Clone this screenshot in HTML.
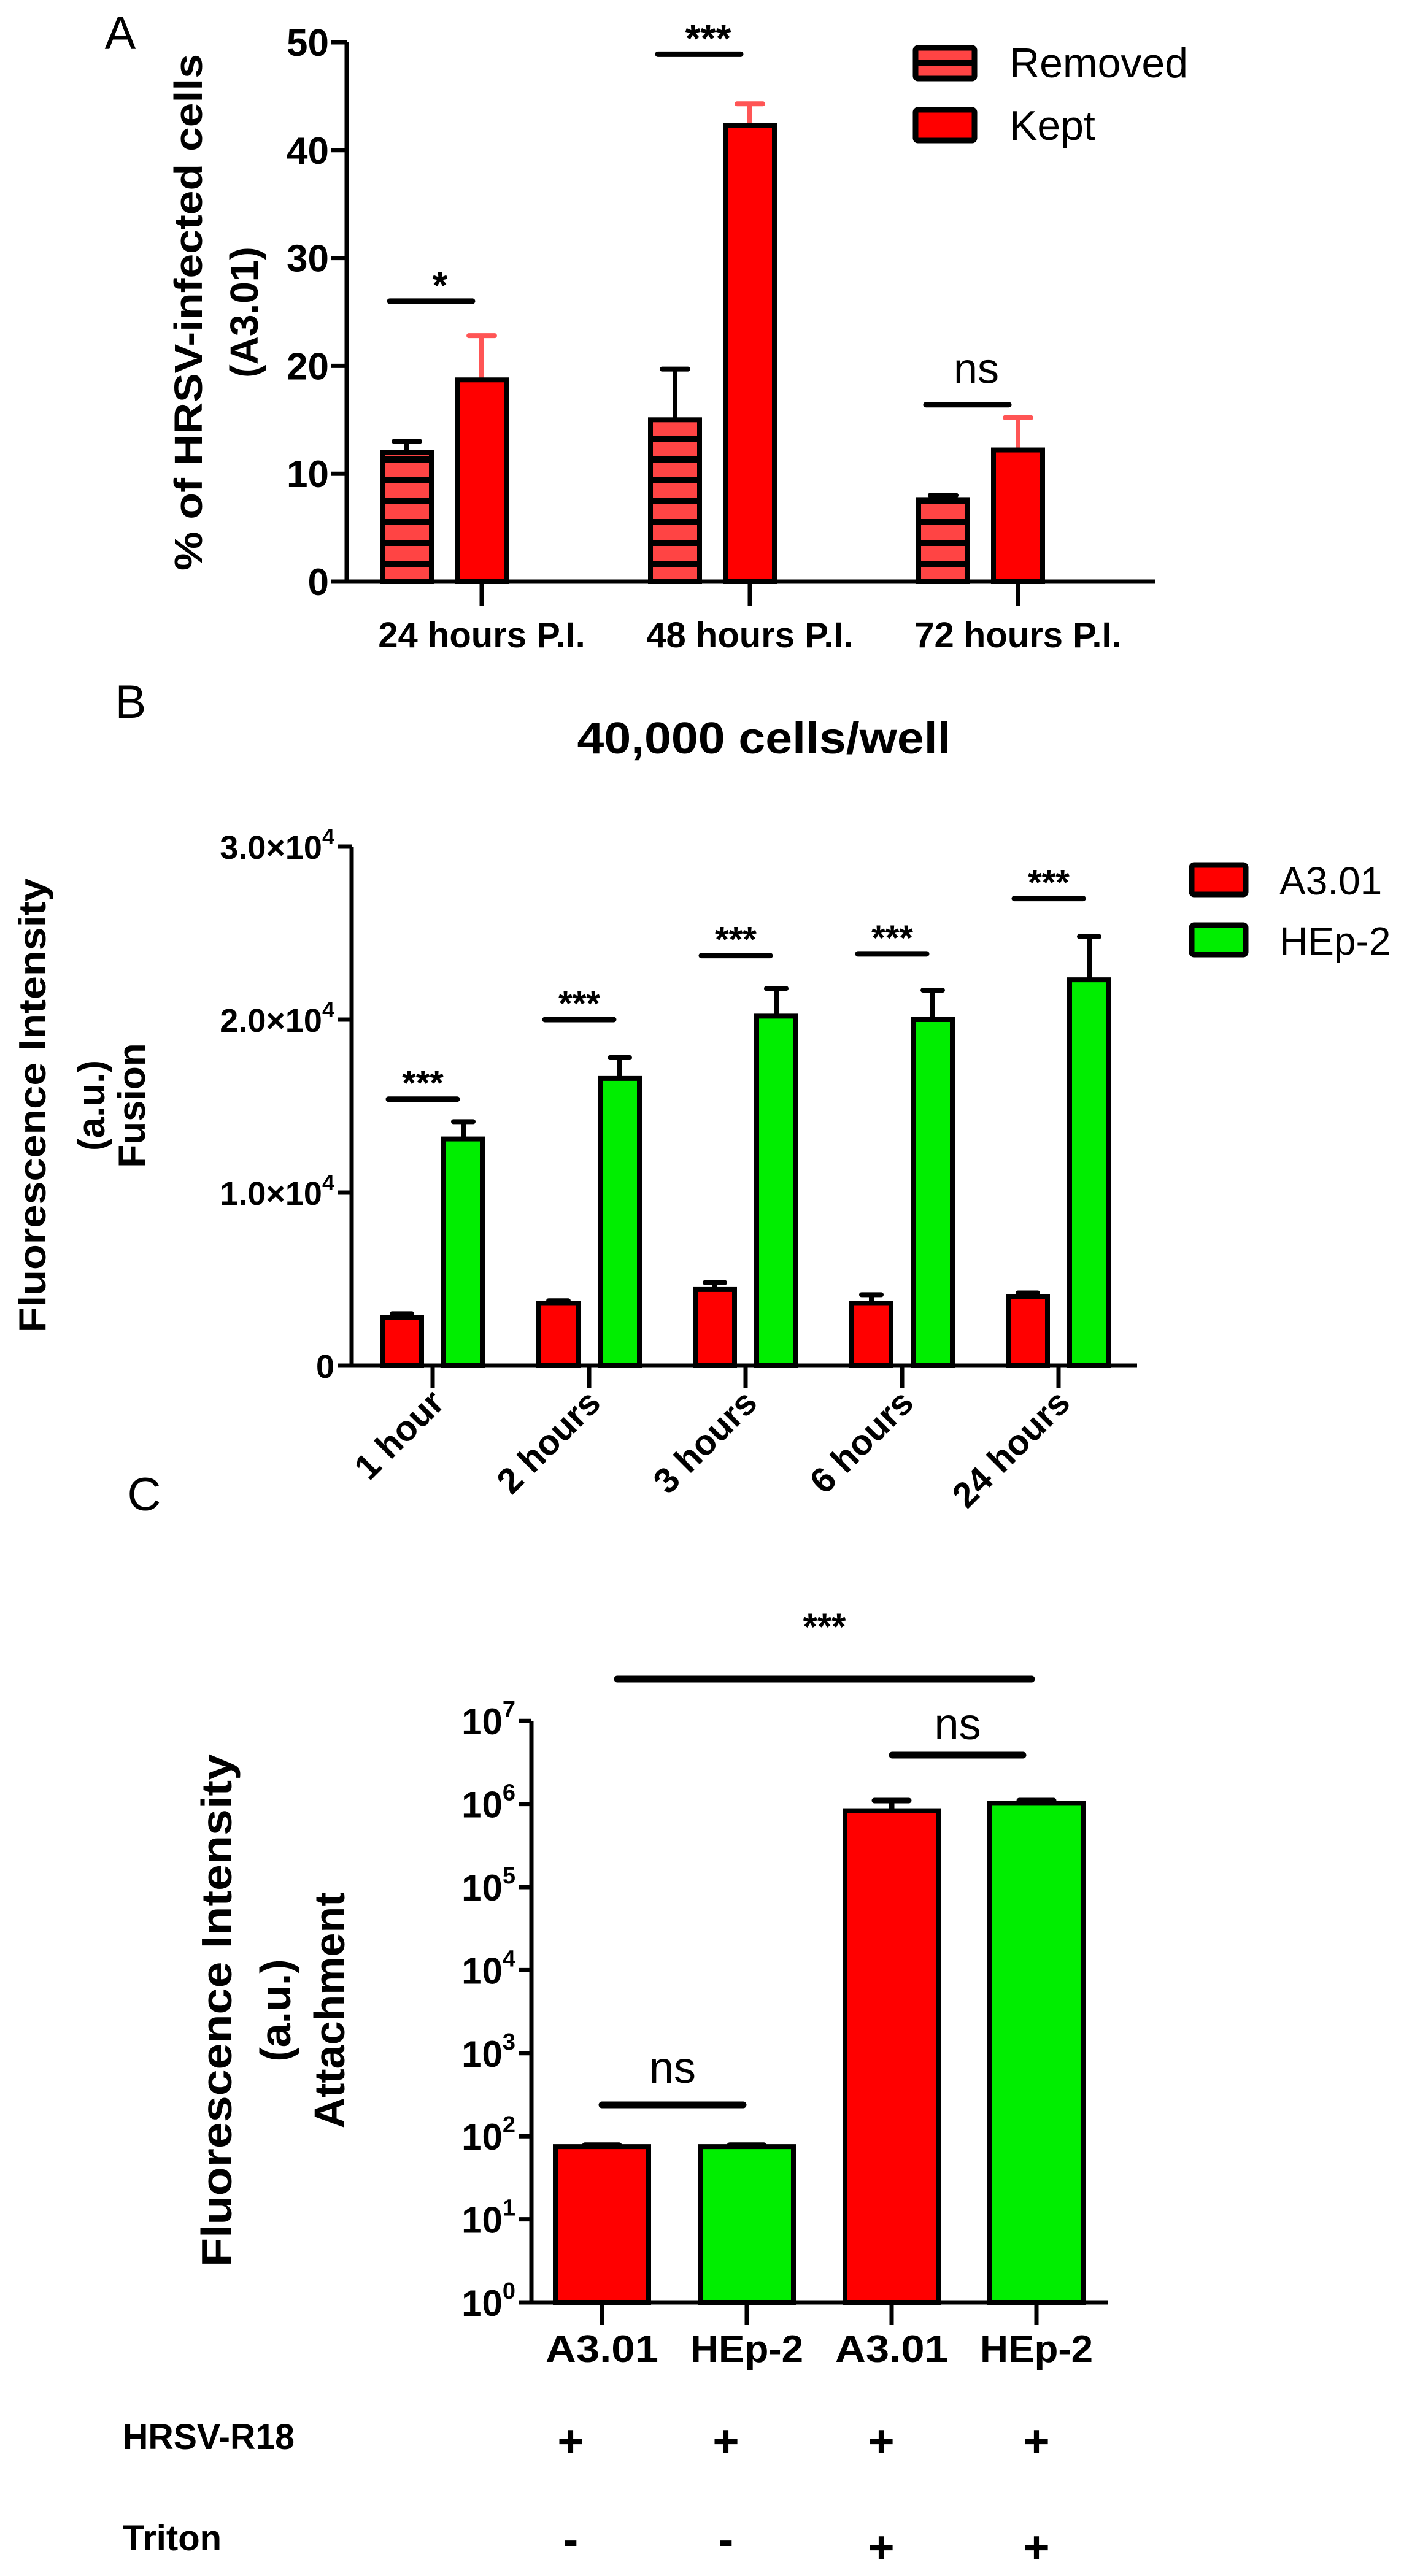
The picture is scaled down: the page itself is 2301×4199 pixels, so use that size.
<!DOCTYPE html>
<html><head><meta charset="utf-8"><style>
html,body{margin:0;padding:0;background:#fff;}
svg{display:block;font-family:"Liberation Sans",Arial,sans-serif;}
</style></head><body>
<svg id="fig" width="2301" height="4199" viewBox="0 0 2301 4199" xmlns="http://www.w3.org/2000/svg">
<defs>
<pattern id="stripes" patternUnits="userSpaceOnUse" x="0" y="948" width="40" height="34">
<rect width="40" height="34" fill="#ff4444"/><rect y="0" width="40" height="10" fill="#000"/>
</pattern>
</defs>
<g id="panelA"></g>
<g id="panelB"></g>
<g id="panelC"></g>
</svg>
<script>
// ---------- Panel A data ----------
const catsA = ["24 hours P.I.", "48 hours P.I.", "72 hours P.I."];
const removedA = [12, 15, 7.6];
const removedErrA = [13, 19.7, 8.0];
const keptA = [18.7, 42.3, 12.2];
const keptErrA = [22.8, 44.3, 15.2];
const ticksA = [0, 10, 20, 30, 40, 50];
const sigA = ["*", "***", "ns"];
const sigLevelA = [26, 48.9, 16.4];

// ---------- Panel B data ----------
const catsB = ["1 hour", "2 hours", "3 hours", "6 hours", "24 hours"];
const a301B = [2800, 3600, 4400, 3600, 4000];
const a301ErrB = [3000, 3750, 4800, 4100, 4200];
const hep2B = [13100, 16600, 20200, 20000, 22300];
const hep2ErrB = [14100, 17800, 21800, 21700, 24800];
const ticksB = [0, 10000, 20000, 30000];
const tickLabelsB = [["0",""], ["1.0×10","4"], ["2.0×10","4"], ["3.0×10","4"]];
const sigLevelB = [15400, 20000, 23700, 23800, 27000];

// ---------- Panel C data ----------
const catsC = ["A3.01", "HEp-2", "A3.01", "HEp-2"];
const valsC = [75, 75, 830000, 1020000];
const errC = [78, 78, 1100000, 1100000];
const ticksC = [0, 1, 2, 3, 4, 5, 6, 7];
const hrsvC = ["+", "+", "+", "+"];
const tritonC = ["-", "-", "+", "+"];

const NS = "http://www.w3.org/2000/svg";
function mk(parent, tag, attrs, text) {
  const e = document.createElementNS(NS, tag);
  for (const k in attrs) e.setAttribute(k, attrs[k]);
  if (text !== undefined) e.textContent = text;
  parent.appendChild(e);
  return e;
}

// ===== Panel A =====
(function(){
  const g = document.getElementById('panelA');
  const yA = v => 948 - v * 17.58;
  const xA = i => 785 + i * 437;
  let t;
  t = mk(g, 'text', {x:196, y:80, 'font-size':76, 'text-anchor':'middle'}, 'A');
   
  t = mk(g, 'text', {x:0, y:0, 'font-size':64, 'font-weight':'bold', 'text-anchor':'middle', transform:'translate(329,509) rotate(-90)', textLength:842, lengthAdjust:'spacingAndGlyphs'}, '% of HRSV-infected cells');
   
  t = mk(g, 'text', {x:0, y:0, 'font-size':64, 'font-weight':'bold', 'text-anchor':'middle', transform:'translate(420,509) rotate(-90)'}, '(A3.01)');
   
  for (let i = 0; i < catsA.length; i++) {
    const cx = xA(i);
    let e = mk(g, 'path', {d:`M${cx-122} ${yA(removedA[i])} V${yA(removedErrA[i])} M${cx-143} ${yA(removedErrA[i])} H${cx-101}`, stroke:'#000', 'stroke-width':8, fill:'none', 'stroke-linecap':'round'});
     
    let b = mk(g, 'rect', {x:cx-122-40, y:yA(removedA[i]), width:80, height:yA(0)-yA(removedA[i]), fill:'url(#stripes)', stroke:'#000', 'stroke-width':8});
     
    e = mk(g, 'path', {d:`M${cx} ${yA(keptA[i])} V${yA(keptErrA[i])} M${cx-21} ${yA(keptErrA[i])} H${cx+21}`, stroke:'#ff5555', 'stroke-width':8, fill:'none', 'stroke-linecap':'round'});
     
    b = mk(g, 'rect', {x:cx-40, y:yA(keptA[i]), width:80, height:yA(0)-yA(keptA[i]), fill:'#ff0000', stroke:'#000', 'stroke-width':8});
     
    const sy = yA(sigLevelA[i]);
    let s = mk(g, 'line', {x1:cx-150, x2:cx-15, y1:sy, y2:sy, stroke:'#000', 'stroke-width':9, 'stroke-linecap':'round'});
     
    const isNs = sigA[i] === 'ns';
    s = mk(g, 'text', {x:cx-68, y: isNs ? sy-35 : sy-4, 'font-size': isNs ? 70 : 64, 'font-weight': isNs ? 'normal' : 'bold', 'text-anchor':'middle'}, sigA[i]);
     
    let tk = mk(g, 'line', {x1:cx, x2:cx, y1:948, y2:988, stroke:'#000', 'stroke-width':7});
     
    let lb = mk(g, 'text', {x:cx, y:1055, 'font-size':58, 'font-weight':'bold', 'text-anchor':'middle'}, catsA[i]);
     
  }
  let ax = mk(g, 'path', {d:`M565 ${yA(50)} V${yA(0)} H1882`, stroke:'#000', 'stroke-width':7, fill:'none'});
   
  for (const v of ticksA) {
    let tk = mk(g, 'line', {x1:540, x2:565, y1:yA(v), y2:yA(v), stroke:'#000', 'stroke-width':7});
     
    let lb = mk(g, 'text', {x:536, y:yA(v)+22, 'font-size':62, 'font-weight':'bold', 'text-anchor':'end'}, String(v));
     
  }
  let l = mk(g, 'rect', {x:1492, y:78, width:96, height:50, fill:'url(#stripes)', stroke:'#000', 'stroke-width':9, rx:4});
   
  l = mk(g, 'text', {x:1645, y:126, 'font-size':68}, 'Removed');
   
  l = mk(g, 'rect', {x:1492, y:179, width:96, height:50, fill:'#ff0000', stroke:'#000', 'stroke-width':9, rx:4});
   
  l = mk(g, 'text', {x:1645, y:228, 'font-size':68}, 'Kept');
   
})();

// ===== Panel B =====
(function(){
  const g = document.getElementById('panelB');
  const yB = v => 2226 - v * 0.0282;
  const xB = i => 705 + i * 255;
  let t = mk(g, 'text', {x:213, y:1170, 'font-size':76, 'text-anchor':'middle'}, 'B');
   
  t = mk(g, 'text', {x:1245, y:1228, 'font-size':72, 'font-weight':'bold', 'text-anchor':'middle', textLength:609, lengthAdjust:'spacingAndGlyphs'}, '40,000 cells/well');
   
  const lines = [['Fluorescence Intensity',74],['(a.u.)',170],['Fusion',236]];
  for (const [s, x] of lines) {
    const o = {x:0, y:0, 'font-size':62, 'font-weight':'bold', 'text-anchor':'middle', transform:`translate(${x},1802) rotate(-90)`};
    if (s.length > 10) { o.textLength = 741; o.lengthAdjust = 'spacingAndGlyphs'; }
    t = mk(g, 'text', o, s);
     
  }
  for (let i = 0; i < catsB.length; i++) {
    const cx = xB(i);
    const rx = cx - 50, gx = cx + 50;
    let e = mk(g, 'path', {d:`M${rx} ${yB(a301B[i])} V${yB(a301ErrB[i])} M${rx-16} ${yB(a301ErrB[i])} H${rx+16}`, stroke:'#000', 'stroke-width':8, fill:'none', 'stroke-linecap':'round'});
     
    let b = mk(g, 'rect', {x:rx-32, y:yB(a301B[i]), width:64, height:yB(0)-yB(a301B[i]), fill:'#ff0000', stroke:'#000', 'stroke-width':8});
     
    e = mk(g, 'path', {d:`M${gx} ${yB(hep2B[i])} V${yB(hep2ErrB[i])} M${gx-16} ${yB(hep2ErrB[i])} H${gx+16}`, stroke:'#000', 'stroke-width':8, fill:'none', 'stroke-linecap':'round'});
     
    b = mk(g, 'rect', {x:gx-32, y:yB(hep2B[i]), width:64, height:yB(0)-yB(hep2B[i]), fill:'#00ee00', stroke:'#000', 'stroke-width':8});
     
    const sy = yB(sigLevelB[i]);
    let s = mk(g, 'line', {x1:cx-72, x2:cx+40, y1:sy, y2:sy, stroke:'#000', 'stroke-width':9, 'stroke-linecap':'round'});
     
    s = mk(g, 'text', {x:cx-16, y:sy-6, 'font-size':58, 'font-weight':'bold', 'text-anchor':'middle'}, '***');
     
    let tk = mk(g, 'line', {x1:cx, x2:cx, y1:2226, y2:2262, stroke:'#000', 'stroke-width':7});
     
    let lb = mk(g, 'text', {x:0, y:0, 'font-size':58, 'font-weight':'bold', 'text-anchor':'end', transform:`translate(${cx+22},2290) rotate(-45)`}, catsB[i]);
     
  }
  let ax = mk(g, 'path', {d:`M573 ${yB(30000)} V${yB(0)} H1853`, stroke:'#000', 'stroke-width':7, fill:'none'});
   
  for (let k = 0; k < ticksB.length; k++) {
    const v = ticksB[k];
    let tk = mk(g, 'line', {x1:550, x2:573, y1:yB(v), y2:yB(v), stroke:'#000', 'stroke-width':7});
     
    let lb = mk(g, 'text', {x:545, y:yB(v)+20, 'font-size':54, 'font-weight':'bold', 'text-anchor':'end'});
     
    mk(lb, 'tspan', {}, tickLabelsB[k][0]);
    if (tickLabelsB[k][1]) mk(lb, 'tspan', {dy:-24, 'font-size':36}, tickLabelsB[k][1]);
  }
  let l = mk(g, 'rect', {x:1942, y:1410, width:88, height:48, fill:'#ff0000', stroke:'#000', 'stroke-width':9, rx:4});
   
  l = mk(g, 'text', {x:2085, y:1458, 'font-size':64}, 'A3.01');
   
  l = mk(g, 'rect', {x:1942, y:1508, width:88, height:48, fill:'#00ee00', stroke:'#000', 'stroke-width':9, rx:4});
   
  l = mk(g, 'text', {x:2085, y:1556, 'font-size':64}, 'HEp-2');
   
})();

// ===== Panel C =====
(function(){
  const g = document.getElementById('panelC');
  const yC = v => 3753 - Math.log10(v) * 135.4;
  const xC = i => 981 + i * 236;
  let t = mk(g, 'text', {x:235, y:2462, 'font-size':76, 'text-anchor':'middle'}, 'C');
   
  const lines = [['Fluorescence Intensity',377],['(a.u.)',473],['Attachment',561]];
  for (const [s, x] of lines) {
    const o = {x:0, y:0, 'font-size':70, 'font-weight':'bold', 'text-anchor':'middle', transform:`translate(${x},3277) rotate(-90)`};
    if (s.length > 10) { o.textLength = 836; o.lengthAdjust = 'spacingAndGlyphs'; }
    t = mk(g, 'text', o, s);
     
  }
  for (let i = 0; i < catsC.length; i++) {
    const cx = xC(i);
    const col = (i % 2 === 0) ? '#ff0000' : '#00ee00';
    let e = mk(g, 'path', {d:`M${cx} ${yC(valsC[i])} V${yC(errC[i])} M${cx-28} ${yC(errC[i])} H${cx+28}`, stroke:'#000', 'stroke-width':9, fill:'none', 'stroke-linecap':'round'});
     
    let b = mk(g, 'rect', {x:cx-76, y:yC(valsC[i]), width:152, height:3753-yC(valsC[i]), fill:col, stroke:'#000', 'stroke-width':8});
     
    let tk = mk(g, 'line', {x1:cx, x2:cx, y1:3753, y2:3790, stroke:'#000', 'stroke-width':7});
     
    let lb = mk(g, 'text', {x:cx, y:3850, 'font-size':62, 'font-weight':'bold', 'text-anchor':'middle', textLength:184, lengthAdjust:'spacingAndGlyphs'}, catsC[i]);
     
    const px = 930 + i * 253;
    let p = mk(g, 'text', {x:px, y:4005, 'font-size':74, 'font-weight':'bold', 'text-anchor':'middle'}, hrsvC[i]);
     
    p = mk(g, 'text', {x:px, y:tritonC[i] === '-' ? 4165 : 4178, 'font-size':74, 'font-weight':'bold', 'text-anchor':'middle'}, tritonC[i]);
     
  }
  let r = mk(g, 'text', {x:200, y:3992, 'font-size':58, 'font-weight':'bold', 'text-anchor':'start', textLength:280, lengthAdjust:'spacingAndGlyphs'}, 'HRSV-R18');
   
  r = mk(g, 'text', {x:200, y:4157, 'font-size':58, 'font-weight':'bold', 'text-anchor':'start'}, 'Triton');
   
  const sigs = [[1006,1681,2737,'***',2672,60,'bold'],[981,1211,3431,'ns',3395,72,'normal'],[1454,1667,2861,'ns',2835,72,'normal']];
  for (const [x1,x2,y,lab,ty,fs,fw] of sigs) {
    let s = mk(g, 'line', {x1:x1, x2:x2, y1:y, y2:y, stroke:'#000', 'stroke-width':11, 'stroke-linecap':'round'});
     
    s = mk(g, 'text', {x:(x1+x2)/2, y:ty, 'font-size':fs, 'font-weight':fw, 'text-anchor':'middle'}, lab);
     
  }
  let ax = mk(g, 'path', {d:`M866 ${yC(1e7)} V3753 H1806`, stroke:'#000', 'stroke-width':7, fill:'none'});
   
  for (const k of ticksC) {
    const y = yC(Math.pow(10, k));
    let tk = mk(g, 'line', {x1:845, x2:866, y1:y, y2:y, stroke:'#000', 'stroke-width':7});
     
    let lb = mk(g, 'text', {x:840, y:y+22, 'font-size':60, 'font-weight':'bold', 'text-anchor':'end'});
     
    mk(lb, 'tspan', {}, '10');
    mk(lb, 'tspan', {dy:-28, 'font-size':38}, String(k));
  }
})();
</script>
</body></html>
